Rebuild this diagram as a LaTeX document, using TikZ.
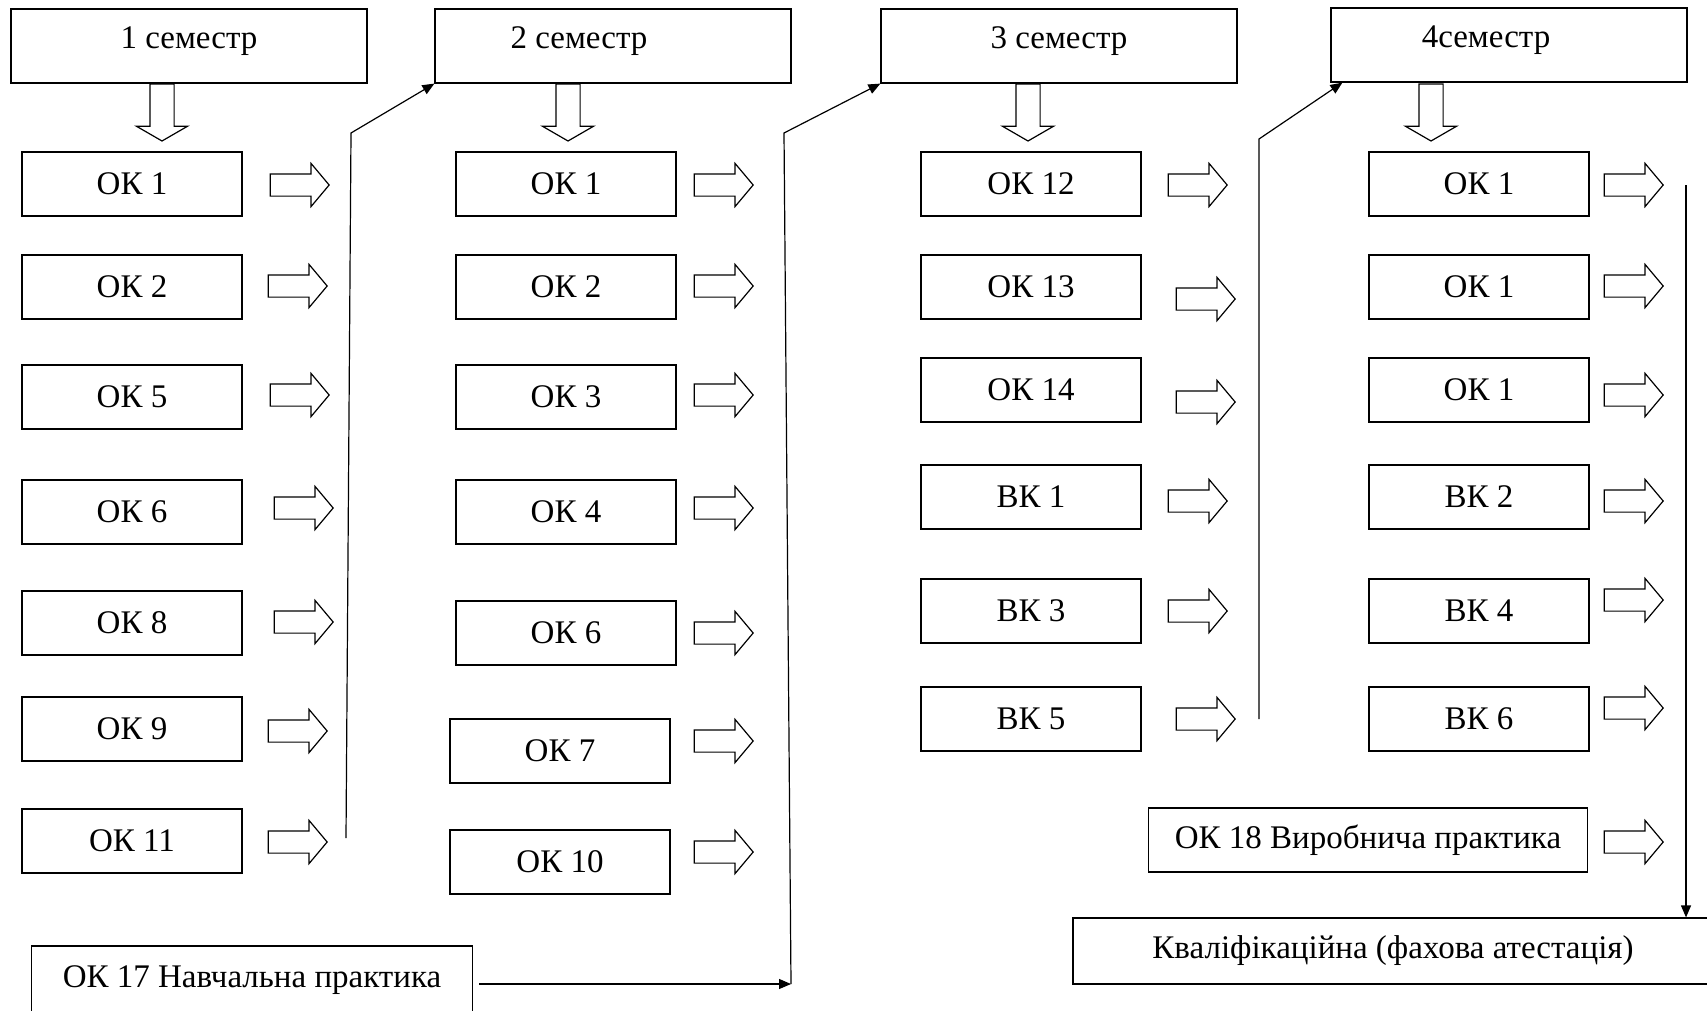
\documentclass[tikz,border=0pt]{standalone}
\usepackage{fontspec}
\setmainfont{Liberation Serif}
\usetikzlibrary{arrows.meta, shapes.arrows}

\begin{document}
\begin{tikzpicture}[
    x=0.5pt, y=-0.5pt,
    line width=0.6pt,
    every node/.style={font=\fontsize{16.5}{19}\selectfont},
    box/.style={draw, rectangle, minimum width=110pt, minimum height=32pt, inner sep=0pt},
    sembox/.style={draw, rectangle, minimum width=178pt, minimum height=37pt, inner sep=0pt,
        text height=12pt, text depth=9.5pt},
    rarr/.style={draw, single arrow, minimum height=29.5pt, minimum width=21pt,
        single arrow head extend=5.25pt, single arrow tip angle=100,
        inner xsep=0pt, inner ysep=5.25pt},
    darr/.style={draw, single arrow, rotate=-90, minimum height=28.5pt, minimum width=25pt,
        single arrow head extend=6.75pt, single arrow tip angle=120,
        inner xsep=0pt, inner ysep=5.75pt},
    link/.style={-{Triangle[length=6pt, width=5pt]}},
    every edge/.style={draw, link}
]
\useasboundingbox (0,0) rectangle (1707,1011);

\node (h1) [sembox] at (189,46) {1 семестр};
\node (h2) [sembox] at (613,46) {\hspace*{-34pt}2 семестр};
\node (h3) [sembox] at (1059,46) {3 семестр};
\node (h4) [sembox] at (1509,45) {\hspace*{-23pt}4семестр};

\node (d1) [darr] at (162,109) {};
\node (d2) [darr] at (568,109) {};
\node (d3) [darr] at (1028,109) {};
\node (d4) [darr] at (1431,109) {};

\node (m11) [box] at (132,184) {ОК 1};
\node (m12) [box] at (132,287) {ОК 2};
\node (m13) [box] at (132,397) {ОК 5};
\node (m14) [box] at (132,512) {ОК 6};
\node (m15) [box] at (132,623) {ОК 8};
\node (m16) [box] at (132,729) {ОК 9};
\node (m17) [box] at (132,841) {ОК 11};

\node (r11) [rarr] at (295,185) {};
\node (r12) [rarr] at (293,286) {};
\node (r13) [rarr] at (295,395) {};
\node (r14) [rarr] at (299,508) {};
\node (r15) [rarr] at (299,622) {};
\node (r16) [rarr] at (293,731) {};
\node (r17) [rarr] at (293,842) {};

\node (m21) [box] at (566,184) {ОК 1};
\node (m22) [box] at (566,287) {ОК 2};
\node (m23) [box] at (566,397) {ОК 3};
\node (m24) [box] at (566,512) {ОК 4};
\node (m25) [box] at (566,633) {ОК 6};
\node (m26) [box] at (560,751) {ОК 7};
\node (m27) [box] at (560,862) {ОК 10};

\node (r21) [rarr] at (719,185) {};
\node (r22) [rarr] at (719,286) {};
\node (r23) [rarr] at (719,395) {};
\node (r24) [rarr] at (719,508) {};
\node (r25) [rarr] at (719,633) {};
\node (r26) [rarr] at (719,741) {};
\node (r27) [rarr] at (719,852) {};

\node (m31) [box] at (1031,184) {ОК 12};
\node (m32) [box] at (1031,287) {ОК 13};
\node (m33) [box] at (1031,390) {ОК 14};
\node (m34) [box] at (1031,497) {ВК 1};
\node (m35) [box] at (1031,611) {ВК 3};
\node (m36) [box] at (1031,719) {ВК 5};

\node (r31) [rarr] at (1193,185) {};
\node (r32) [rarr] at (1201,299) {};
\node (r33) [rarr] at (1201,402) {};
\node (r34) [rarr] at (1193,501) {};
\node (r35) [rarr] at (1193,611) {};
\node (r36) [rarr] at (1201,719) {};

\node (m41) [box] at (1479,184) {ОК 1};
\node (m42) [box] at (1479,287) {ОК 1};
\node (m43) [box] at (1479,390) {ОК 1};
\node (m44) [box] at (1479,497) {ВК 2};
\node (m45) [box] at (1479,611) {ВК 4};
\node (m46) [box] at (1479,719) {ВК 6};
\node (pr18) [box, minimum width=219.5pt] at (1368,840) {ОК 18 Виробнича практика};

\node (r41) [rarr] at (1629,185) {};
\node (r42) [rarr] at (1629,286) {};
\node (r43) [rarr] at (1629,395) {};
\node (r44) [rarr] at (1629,501) {};
\node (r45) [rarr] at (1629,600) {};
\node (r46) [rarr] at (1629,708) {};
\node (r47) [rarr] at (1629,842) {};

\node (pr17) [box, minimum width=220.5pt, minimum height=34pt] at (252,980) {ОК 17 Навчальна практика};
\node (fin) [box, minimum width=320pt, minimum height=33pt] at (1393,951) {Кваліфікаційна (фахова атестація)};

\coordinate (u1) at (346,838);
\coordinate (v1) at (351,133);
\coordinate (u2) at (791,984);
\coordinate (v2) at (784,133);
\coordinate (u3) at (1259,719);
\coordinate (v3) at (1259,139);
\coordinate (u4) at (1686,185);

\draw [link] (u1) -- (v1) -- (h2.south west);
\draw [link, shorten <=3pt] (pr17.east |- u2) -- (u2);
\draw [link] (u2) -- (v2) -- (h3.south west);
\draw [link] (u3) -- (v3) -- ([xshift=6pt]h4.south west);
\draw (u4) edge (u4 |- fin.north);

\end{tikzpicture}
\end{document}
